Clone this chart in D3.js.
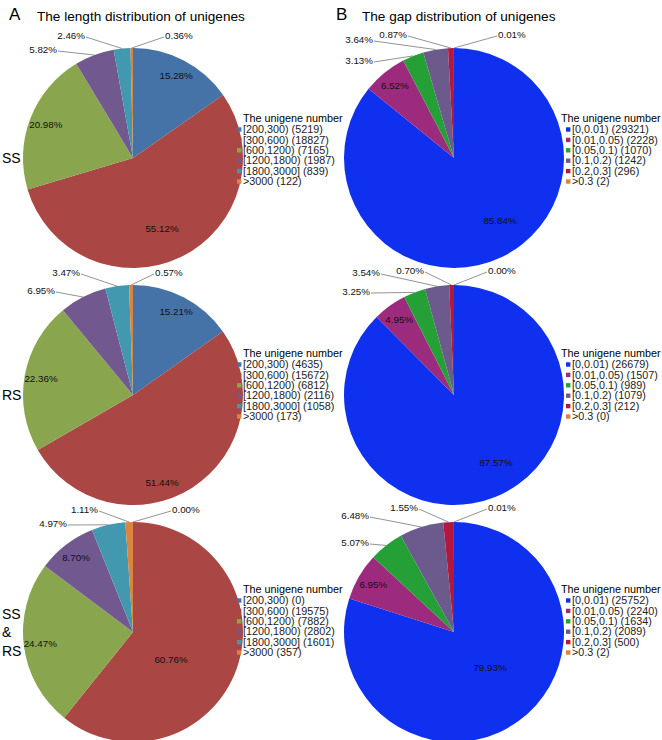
<!DOCTYPE html>
<html><head><meta charset="utf-8">
<script src="https://cdn.jsdelivr.net/npm/d3@7"></script>
<style>
html,body{margin:0;padding:0;background:#fff;}
svg{display:block;font-family:"Liberation Sans",Arial,sans-serif;}
</style></head>
<body><svg id="c" width="662" height="740"></svg>
<script>
// ---- data ----
const lengthCategories = ["[200,300)","[300,600)","[600,1200)","[1200,1800)","[1800,3000]",">3000"];
const gapCategories = ["[0,0.01)","[0.01,0.05)","[0.05,0.1)","[0.1,0.2)","[0.2,0.3]",">0.3"];
const lengthSS   = [5219,18827,7165,1987,839,122];
const lengthRS   = [4635,15672,6812,2116,1058,173];
const lengthSSRS = [0,19575,7882,2802,1601,357];
const gapSS   = [29321,2228,1070,1242,296,2];
const gapRS   = [26679,1507,989,1079,212,0];
const gapSSRS = [25752,2240,1634,2089,500,2];
const rowLabels = [["SS"],["RS"],["SS","&","RS"]];

// ---- styles / layout ----
const lengthColors = ["#4572A7","#AA4643","#89A54E","#71588F","#4198AF","#DB843D"];
const gapColors    = ["#1030F0","#9C2B7E","#24A036","#6D5A8D","#B2183E","#DB843D"];
const R = 110;
const colX = [133, 454];
const rowY = [158, 395, 632];
// label placement per panel: "in" = inside at centroid, [dx,dy,anchor] = explicit offset from centre
const labelLayout = {
  A0: [["in"],[29,71,"middle"],["in"],[-76,-108,"end"],[-48,-122,"end"],[32,-122,"start"]],
  A1: [["in"],[29,88,"middle"],["in"],[-78,-104,"end"],[-53,-122,"end"],[22,-122,"start"]],
  A2: [[39,-122,"start"],[38,28,"middle"],["in"],["in"],[-66,-108,"end"],[-35,-122,"end"]],
  B0: [[46,63,"middle"],["in"],[-81,-97,"end"],[-81,-118,"end"],[-47,-123,"end"],[44,-123,"start"]],
  B1: [[42,68,"middle"],["in"],[-84,-103,"end"],[-74,-122,"end"],[-30,-124,"end"],[34,-124,"start"]],
  B2: [[36,36,"middle"],["in"],[-85,-89,"end"],[-85,-116,"end"],[-36,-124,"end"],[34,-124,"start"]]
};
const legendTitleY = [118, 353, 589];

const svg = d3.select("#c");
const pie = d3.pie().sort(null).value(d=>d);
const arc = d3.arc().innerRadius(0).outerRadius(R);
const labelArc = d3.arc().innerRadius(R*0.85).outerRadius(R*0.85);

// titles
svg.append("text").attr("x",9).attr("y",20).attr("font-size",17).text("A");
svg.append("text").attr("x",37).attr("y",21).attr("font-size",13.6).text("The length distribution of unigenes");
svg.append("text").attr("x",336).attr("y",20).attr("font-size",17).text("B");
svg.append("text").attr("x",362).attr("y",21).attr("font-size",13.6).text("The gap distribution of unigenes");

rowLabels.forEach((lines,i)=>{
  const n = lines.length, lh = 18.5;
  lines.forEach((t,j)=>{
    svg.append("text").attr("x",2).attr("y",rowY[i] + 5 + (j-(n-1)/2)*lh)
      .attr("font-size",14).text(t);
  });
});

const panels = [
  {key:"A0",col:0,row:0,values:lengthSS,cats:lengthCategories,colors:lengthColors},
  {key:"A1",col:0,row:1,values:lengthRS,cats:lengthCategories,colors:lengthColors},
  {key:"A2",col:0,row:2,values:lengthSSRS,cats:lengthCategories,colors:lengthColors},
  {key:"B0",col:1,row:0,values:gapSS,cats:gapCategories,colors:gapColors},
  {key:"B1",col:1,row:1,values:gapRS,cats:gapCategories,colors:gapColors},
  {key:"B2",col:1,row:2,values:gapSSRS,cats:gapCategories,colors:gapColors}
];

panels.forEach(p=>{
  const cx = colX[p.col], cy = rowY[p.row];
  const total = d3.sum(p.values);
  const g = svg.append("g").attr("transform",`translate(${cx},${cy})`);
  const arcs = pie(p.values);
  g.selectAll("path.s").data(arcs).join("path").attr("class","s")
    .attr("d",arc).attr("fill",(d,i)=>p.colors[i]);
  const lay = labelLayout[p.key];
  arcs.forEach((d,i)=>{
    const txt = (d.data/total*100).toFixed(2)+"%";
    const L = lay[i];
    if (L[0]==="in") {
      const [x,y] = labelArc.centroid(d);
      g.append("text").attr("x",x).attr("y",y).attr("dy","0.35em")
        .attr("text-anchor","middle").attr("font-size",9.8).attr("fill","#111").text(txt);
    } else {
      const [dx,dy,anchor] = L;
      const t = g.append("text").attr("x",dx).attr("y",dy).attr("dy","0.35em")
        .attr("text-anchor",anchor).attr("font-size",9.8).attr("fill","#111").text(txt);
      if (anchor!=="middle") {
        const mid = (d.startAngle+d.endAngle)/2;
        const ex = Math.sin(mid)*R, ey = -Math.cos(mid)*R;
        const sx = anchor==="end" ? dx+1 : dx-1;
        g.insert("line","text").attr("x1",sx).attr("y1",dy+1).attr("x2",ex).attr("y2",ey)
          .attr("stroke","#777").attr("stroke-width",0.8);
      }
    }
  });
  // legend
  const lx = p.col===0 ? 243 : 561;
  const sqx = p.col===0 ? 237 : 566;
  const txx = p.col===0 ? 243 : 572;
  const ty = legendTitleY[p.row];
  const lg = svg.append("g");
  lg.append("text").attr("x",lx).attr("y",ty).attr("dy","0.35em").attr("font-size",10.8).text("The unigene number");
  p.cats.forEach((c,i)=>{
    const y = ty + 11.5 + i*10.4;
    lg.append("rect").attr("x",sqx).attr("y",y-2.2).attr("width",4.4).attr("height",4.4).attr("fill",p.colors[i]);
    lg.append("text").attr("x",txx).attr("y",y).attr("dy","0.35em").attr("font-size",10.8)
      .attr("fill","#222").text(`${c} (${p.values[i]})`);
  });
});
</script></body></html>
